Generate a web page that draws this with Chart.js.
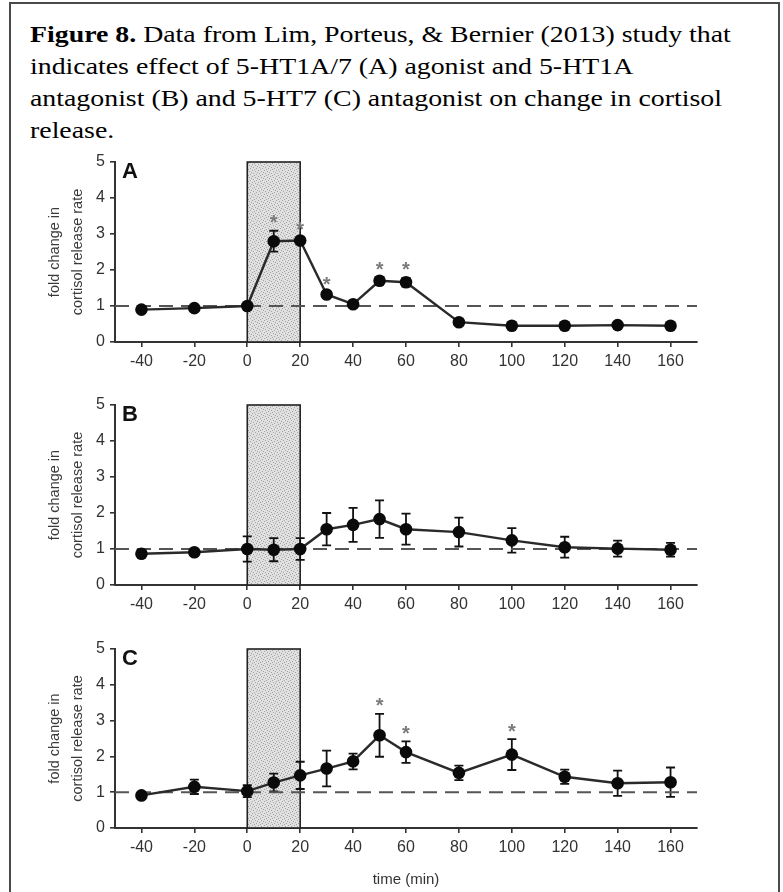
<!DOCTYPE html>
<html>
<head>
<meta charset="utf-8">
<script src="https://cdn.jsdelivr.net/npm/chart.js@4.4.0/dist/chart.umd.min.js"></script>
<style>
  body { margin: 0; background: #fff; width: 783px; height: 892px; overflow: hidden; position: relative; }
  #frame { position: absolute; left: 9px; top: 2px; width: 767px; height: 960px; border: 2px solid #4a4a4a; }
  #cap { position: absolute; left: 30px; top: 18px; font-family: "Liberation Serif", "Times New Roman", serif;
         font-size: 24px; line-height: 32px; color: #000; white-space: nowrap;
         transform: scaleX(1.16); transform-origin: left top; }
  canvas { position: absolute; left: 0; }
</style>
</head>
<body>
<div id="frame"></div>
<div id="cap"><b>Figure 8.</b> Data from Lim, Porteus, &amp; Bernier (2013) study that<br>indicates effect of 5-HT1A/7 (A) agonist and 5-HT1A<br>antagonist (B) and 5-HT7 (C) antagonist on change in cortisol<br>release.</div>
<canvas id="panelA" width="783" height="242" style="top:140px"></canvas>
<canvas id="panelB" width="783" height="242" style="top:383px"></canvas>
<canvas id="panelC" width="783" height="265" style="top:627px"></canvas>
<script>
// temps de prélèvement (min)
const times = [-40, -20, 0, 10, 20, 30, 40, 50, 60, 80, 100, 120, 140, 160];
const xTicks = [-40, -20, 0, 20, 40, 60, 80, 100, 120, 140, 160];

// A : agoniste 5-HT1A/7
const meanA = [0.90, 0.94, 1.00, 2.80, 2.82, 1.32, 1.05, 1.70, 1.66, 0.55, 0.45, 0.45, 0.47, 0.45];
const errA  = [0.05, 0.05, 0.03, 0.29, 0.08, 0.06, 0.05, 0.10, 0.12, 0.04, 0.03, 0.03, 0.03, 0.03];
const starsA = [10, 20, 30, 50, 60];

// B : antagoniste 5-HT1A
const meanB = [0.87, 0.91, 1.00, 0.98, 1.00, 1.55, 1.67, 1.83, 1.55, 1.47, 1.24, 1.05, 1.01, 0.98];
const errB  = [0.08, 0.08, 0.35, 0.32, 0.30, 0.45, 0.47, 0.52, 0.43, 0.40, 0.34, 0.29, 0.22, 0.19];
const starsB = [];

// C : antagoniste 5-HT7
const meanC = [0.91, 1.15, 1.03, 1.27, 1.47, 1.66, 1.86, 2.59, 2.12, 1.54, 2.05, 1.43, 1.25, 1.28];
const errC  = [0.10, 0.20, 0.17, 0.25, 0.38, 0.50, 0.22, 0.60, 0.30, 0.20, 0.43, 0.20, 0.35, 0.41];
const starsC = [50, 60, 100];

// période de stimulation (zone grisée) et ligne de base
const stimStart = 0, stimEnd = 20;
const baseline = 1;

Chart.defaults.font.family = '"Liberation Sans", Arial, sans-serif';
Chart.defaults.color = '#333';

// petite texture pointillée pour la zone grisée
function stipple(ctx) {
  const c = document.createElement('canvas');
  c.width = 6; c.height = 6;
  const g = c.getContext('2d');
  g.fillStyle = '#e0e0e0';
  g.fillRect(0, 0, 6, 6);
  g.fillStyle = '#a4a4a4';
  [[0, 0], [3, 1], [1, 3], [4, 4], [2, 5], [5, 2]].forEach(([px, py]) => g.fillRect(px, py, 1, 1));
  return ctx.createPattern(c, 'repeat');
}

// zone grisée, barres d'erreur, lettre du panneau, astérisques
const decor = {
  id: 'decor',
  beforeDatasetsDraw(chart, args, o) {
    const { ctx, scales: { x, y } } = chart;
    const l = x.getPixelForValue(stimStart), r = x.getPixelForValue(stimEnd);
    const t = y.getPixelForValue(5), b = y.getPixelForValue(0);
    ctx.save();
    ctx.fillStyle = stipple(ctx);
    ctx.fillRect(l, t, r - l, b - t);
    ctx.strokeStyle = '#222';
    ctx.lineWidth = 1.6;
    ctx.strokeRect(l, t, r - l, b - t);

    ctx.strokeStyle = '#111';
    ctx.lineWidth = 1.8;
    times.forEach((tm, i) => {
      const px = x.getPixelForValue(tm);
      const hi = y.getPixelForValue(o.mean[i] + o.err[i]);
      const lo = y.getPixelForValue(o.mean[i] - o.err[i]);
      ctx.beginPath();
      ctx.moveTo(px, hi); ctx.lineTo(px, lo);
      ctx.moveTo(px - 4.5, hi); ctx.lineTo(px + 4.5, hi);
      ctx.moveTo(px - 4.5, lo); ctx.lineTo(px + 4.5, lo);
      ctx.stroke();
    });
    ctx.restore();
  },
  afterDatasetsDraw(chart, args, o) {
    const { ctx, chartArea, scales: { x, y } } = chart;
    ctx.save();
    ctx.fillStyle = '#111';
    ctx.font = 'bold 22px "Liberation Sans", Arial, sans-serif';
    ctx.textBaseline = 'top';
    ctx.fillText(o.letter, chartArea.left + 7, chartArea.top - 1);

    ctx.fillStyle = '#7a7a7a';
    ctx.font = 'bold 20px "Liberation Sans", Arial, sans-serif';
    ctx.textAlign = 'center';
    ctx.textBaseline = 'middle';
    o.stars.forEach(tm => {
      const i = times.indexOf(tm);
      const px = x.getPixelForValue(tm);
      const py = y.getPixelForValue(o.mean[i] + o.err[i]) - 7;
      ctx.fillText('*', px, py);
    });
    ctx.restore();
  }
};

function drawPanel(id, letter, mean, err, stars, axisH, withTitle) {
  new Chart(document.getElementById(id), {
    type: 'line',
    data: {
      datasets: [
        {
          data: times.map((t, i) => ({ x: t, y: mean[i] })),
          borderColor: '#2a2a2a',
          borderWidth: 2.4,
          pointRadius: 6.3,
          pointBackgroundColor: '#0a0a0a',
          pointBorderWidth: 0
        },
        {
          data: [{ x: -50, y: baseline }, { x: 170, y: baseline }],
          borderColor: '#555',
          borderWidth: 2,
          borderDash: [14, 8],
          pointRadius: 0
        }
      ]
    },
    options: {
      responsive: false,
      animation: false,
      layout: { padding: { left: 0, right: 86, top: 22, bottom: 0 } },
      plugins: {
        legend: { display: false },
        tooltip: { enabled: false },
        decor: { letter, mean, err, stars }
      },
      scales: {
        x: {
          type: 'linear',
          min: -50,
          max: 170,
          afterBuildTicks: s => { s.ticks = xTicks.map(v => ({ value: v })); },
          afterFit: s => { s.height = axisH; },
          ticks: { font: { size: 16 }, color: '#333', padding: 5 },
          grid: { drawOnChartArea: false, drawTicks: true, tickLength: 5, color: '#333', lineWidth: 1.6 },
          border: { display: true, color: '#333', width: 2 },
          title: { display: withTitle, text: 'time (min)', font: { size: 15 }, color: '#333', padding: { top: 0, bottom: 3 } }
        },
        y: {
          min: 0,
          max: 5,
          afterFit: s => { s.width = 115; },
          ticks: { stepSize: 1, font: { size: 16 }, color: '#333', padding: 5 },
          grid: { drawOnChartArea: false, drawTicks: true, tickLength: 5, color: '#333', lineWidth: 1.6 },
          border: { display: true, color: '#333', width: 2 },
          title: {
            display: true,
            text: ['fold change in', 'cortisol release rate'],
            font: { size: 14.5, lineHeight: 1.6 },
            color: '#3a3a3a',
            padding: { top: 43.5, bottom: 0 }
          }
        }
      }
    },
    plugins: [decor]
  });
}

drawPanel('panelA', 'A', meanA, errA, starsA, 40, false);
drawPanel('panelB', 'B', meanB, errB, starsB, 40, false);
drawPanel('panelC', 'C', meanC, errC, starsC, 64, true);
</script>
</body>
</html>
